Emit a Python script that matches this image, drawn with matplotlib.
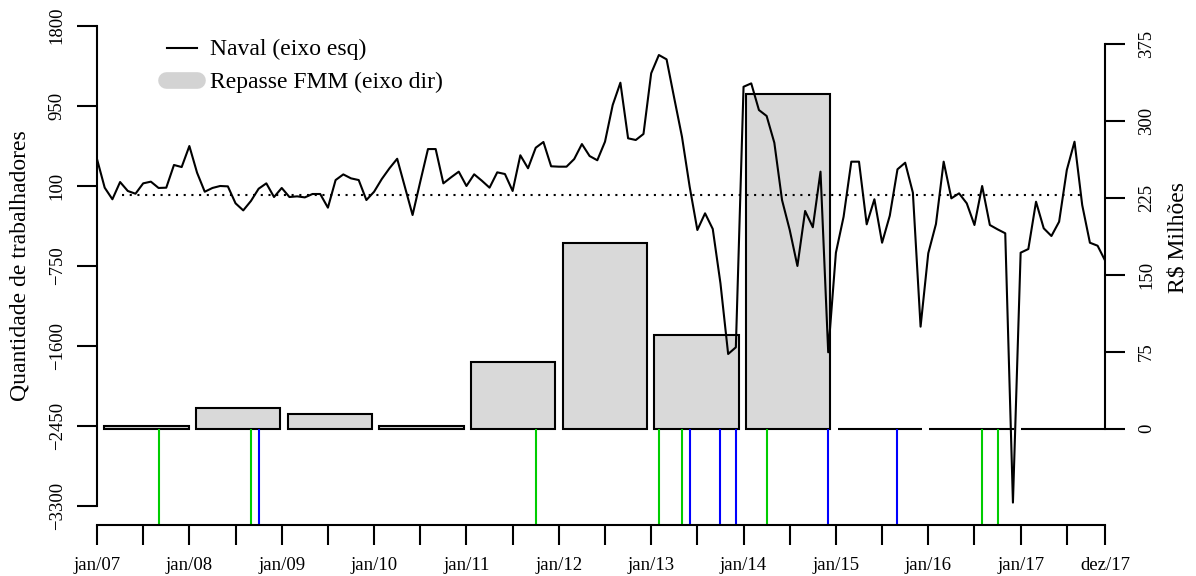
import matplotlib
matplotlib.use("Agg")
import matplotlib.pyplot as plt
from matplotlib.lines import Line2D

plt.rcParams['font.family'] = ['Liberation Serif', 'DejaVu Serif']

# saldo mensal de trabalhadores no setor naval, jan/07 a dez/17
naval = [383, 79, -44, 139, 44, 15, 125, 143, 76, 79, 320, 298,
         521, 238, 36, 76, 97, 93, -87, -162, -62, 68, 125, -20,
         76, -20, -13, -24, 12, 12, -133, 160, 220, 178, 160, -52,
         36, 171, 285, 386, 89, -211, 143, 489, 489, 125, 189, 249,
         97, 221, 153, 79, 242, 224, 44, 423, 285, 503, 564, 306,
         302, 302, 383, 542, 415, 370, 567, 956, 1193, 603, 585, 649,
         1293, 1487, 1441, 1027, 620, 89, -370, -193, -359, -936, -1686, -1615,
         1150, 1186, 903, 840, 556, -52, -370, -752, -168, -341, 249, -1668,
         -611, -229, 355, 355, -310, -44, -505, -218, 274, 344, 26, -1396,
         -617, -306, 355, -34, 19, -87, -317, 97, -317, -363, -405, -3263,
         -611, -572, -70, -352, -434, -282, 267, 567, -105, -505, -537, -699]
meses = list(range(len(naval)))

# repasse anual do FMM (R$ milhões)
anos = [2007, 2008, 2009, 2010, 2011, 2012, 2013, 2014, 2015, 2016, 2017]
repasse_fmm = [2.6, 20.5, 14.0, 2.9, 65.3, 181.4, 91.4, 326.7, 0, 0, 0]

# meses marcados (índice a partir de jan/07)
eventos_verde = [8, 20, 57, 73, 76, 87, 115, 117]
eventos_azul = [21, 77, 81, 83, 95, 104]

yticks_esq = [-3300, -2450, -1600, -750, 100, 950, 1800]
yticks_dir = [0, 75, 150, 225, 300, 375]
xticks = list(range(0, 127, 6)) + [131]
xlabels = ['jan/%02d' % (7 + m // 12) if m % 12 == 0 else '' for m in xticks[:-1]] + ['dez/17']

W, H = 1196, 576
fig = plt.figure(figsize=(W / 100, H / 100), dpi=100)
ax1 = fig.add_axes([97 / W, (H - 525.3) / H, 1008.3 / W, 519 / H])
ax2 = ax1.twinx()
ax1.set_zorder(2)
ax2.set_zorder(1)
ax1.patch.set_visible(False)

# barras anuais no eixo direito
periodo = (len(naval) - 1) / len(anos)
larg = 0.92 * periodo
esq = [k * periodo + (periodo - larg) for k in range(len(anos))]
ax2.bar(esq, repasse_fmm, width=larg, align='edge', color='#D9D9D9',
        edgecolor='black', linewidth=1.5)
ax2.set_ylim(-94.2, 412)
ax2.vlines(eventos_verde, -94.2, 0, colors='#00CD00', linewidth=1.5)
ax2.vlines(eventos_azul, -94.2, 0, colors='#0000FF', linewidth=1.5)

# série mensal no eixo esquerdo
ax1.plot(meses, naval, color='black', linewidth=1.5)
ax1.plot([3.3, 128.3], [0, 0], color='black', linewidth=1.5,
         linestyle=(0, (1, 2.7)), dash_capstyle='butt')
ax1.set_xlim(0, len(naval) - 1)
ax1.set_ylim(-3504, 2004)

for ax in (ax1, ax2):
    for s in ax.spines.values():
        s.set_visible(False)
ax1.spines['left'].set_visible(True)
ax1.spines['left'].set_bounds(-3300, 1800)
ax1.spines['bottom'].set_visible(True)
ax1.spines['bottom'].set_bounds(0, len(naval) - 1)
ax2.spines['right'].set_visible(True)
ax2.spines['right'].set_bounds(0, 375)
for s in (ax1.spines['left'], ax1.spines['bottom'], ax2.spines['right']):
    s.set_linewidth(1.5)

fmt = lambda v: str(v).replace('-', '\u2212')
ax1.set_yticks(yticks_esq, [fmt(v) for v in yticks_esq], rotation=90,
               ha='center', va='center')
ax2.set_yticks(yticks_dir, [fmt(v) for v in yticks_dir], rotation=90,
               ha='center', va='center')
ax1.set_xticks(xticks, xlabels)
ax1.tick_params(axis='y', length=14.4, width=1.5, labelsize=13.5, pad=14.3)
ax2.tick_params(axis='y', length=14.4, width=1.5, labelsize=13.5, pad=15.3)
ax1.tick_params(axis='x', length=14.4, width=1.5, labelsize=13.5, pad=8.5)

fig.text(20 / W, 1 - 266 / H, 'Quantidade de trabalhadores', rotation=90,
         fontsize=17, ha='center', va='center')
fig.text(1178 / W, 1 - 237.5 / H, 'R$ Milhões', rotation=90,
         fontsize=17, ha='center', va='center')

# legenda
fig.add_artist(Line2D([167 / W, 197 / W], [1 - 47.7 / H] * 2, color='black', linewidth=1.5))
fig.add_artist(Line2D([166 / W, 197 / W], [1 - 80 / H] * 2, color='#D3D3D3',
                      linewidth=12, solid_capstyle='round'))
fig.text(210 / W, 1 - 55 / H, 'Naval (eixo esq)', fontsize=17, va='baseline')
fig.text(210 / W, 1 - 88.3 / H, 'Repasse FMM (eixo dir)', fontsize=17, va='baseline')

fig.savefig('out.png', dpi=100)
